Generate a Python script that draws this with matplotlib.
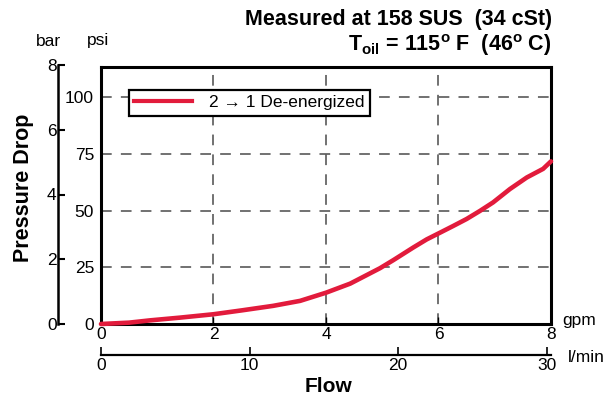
import matplotlib
matplotlib.use("Agg")
import matplotlib.pyplot as plt
from matplotlib.lines import Line2D

plt.rcParams["font.family"] = ["Liberation Sans", "DejaVu Sans"]
plt.rcParams["mathtext.fontset"] = "custom"
plt.rcParams["mathtext.rm"] = "Liberation Sans"
plt.rcParams["mathtext.bf"] = "Liberation Sans:bold"

# data (flow in gpm, pressure drop in psi)
flow_gpm = [0.0, 0.5, 0.87, 1.4, 2.0, 2.5, 3.06, 3.54, 4.0, 4.43, 4.96, 5.2, 5.55, 5.79,
            6.03, 6.26, 6.5, 6.74, 6.97, 7.27, 7.57, 7.86, 8.0]
drop_psi = [0.0, 0.6, 1.6, 2.8, 4.3, 6.0, 8.0, 10.2, 13.8, 17.8, 24.6, 28.2, 33.7, 37.3,
            40.3, 43.2, 46.3, 49.9, 53.6, 59.5, 64.6, 68.4, 71.7]

gpm_ticks = [0, 2, 4, 6, 8]
lmin_ticks = [0, 10, 20, 30]
psi_ticks = [0, 25, 50, 75, 100]
bar_ticks = [0, 2, 4, 6, 8]
series_label = "2 \u2192 1 De-energized"

W, H = 610, 397
fig = plt.figure(figsize=(W / 100, H / 100), dpi=100)


def fx(px):
    return px / W


def fy(py):
    return 1 - py / H


red = "#e21b3c"
fs = 12.5

ax = fig.add_axes([fx(101), fy(324), fx(551) - fx(101), fy(67) - fy(324)])
ax.plot(flow_gpm, drop_psi, color=red, lw=3.3, solid_capstyle="round",
        solid_joinstyle="round", clip_on=False, zorder=3)
ax.set_xlim(0, 8)
ax.set_ylim(0, 113.3)
ax.set_xticks(gpm_ticks)
ax.set_yticks(psi_ticks)
ax.tick_params(axis="x", direction="in", length=5, width=1, labelsize=fs, pad=2)
ax.tick_params(axis="y", length=0, labelsize=fs, pad=5)
for s in ax.spines.values():
    s.set_linewidth(2.2)
for v in [2, 4, 6]:
    ax.axvline(v, color="#4a4a4a", lw=1.1, dashes=(7, 6), zorder=1)
for v in [25, 50, 75, 100]:
    ax.axhline(v, color="#4a4a4a", lw=1.1, dashes=(7, 6), zorder=1)

h = Line2D([], [], color=red, lw=3)
leg = ax.legend([h], [series_label], loc="upper left",
                bbox_to_anchor=((129 - 101) / 450, (324 - 90) / 257),
                frameon=True, fontsize=fs, handlelength=3.3, handletextpad=1.0,
                borderpad=0.3, borderaxespad=0, fancybox=False, framealpha=1)
leg.get_frame().set_edgecolor("black")
leg.get_frame().set_linewidth(1.6)

# bar axis on the far left
axb = fig.add_axes([fx(58), fy(324), 0.001, fy(65) - fy(324)])
axb.set_ylim(0, 8)
axb.set_yticks(bar_ticks)
axb.set_xticks([])
for k in ["top", "right", "bottom"]:
    axb.spines[k].set_visible(False)
axb.spines["left"].set_linewidth(1.8)
axb.tick_params(axis="y", direction="in", length=5, width=1.5, labelsize=fs, pad=1)
axb.patch.set_visible(False)

# l/min axis below
axl = fig.add_axes([fx(101), fy(355), fx(551) - fx(101), 0.001])
axl.set_xlim(0, 8 * 3.785)
axl.set_xticks(lmin_ticks)
axl.set_yticks([])
for k in ["top", "right", "left"]:
    axl.spines[k].set_visible(False)
axl.spines["bottom"].set_linewidth(1.6)
axl.tick_params(axis="x", direction="in", length=6, width=1.2, labelsize=fs, pad=2)
axl.patch.set_visible(False)

fig.text(fx(48), fy(42), "bar", ha="center", va="center", fontsize=fs)
fig.text(fx(98), fy(41), "psi", ha="center", va="center", fontsize=fs)
fig.text(fx(23), fy(188), "Pressure Drop", rotation=90, ha="center", va="center",
         fontsize=15.5, fontweight="bold")
fig.text(fx(328), fy(387), "Flow", ha="center", va="center", fontsize=15, fontweight="bold")
fig.text(fx(562), fy(320), "gpm", ha="left", va="center", fontsize=fs)
fig.text(fx(568), fy(357), "l/min", ha="left", va="center", fontsize=fs)

fig.text(fx(552), fy(19), "Measured at 158 SUS  (34 cSt)", ha="right", va="center",
         fontsize=15.5, fontweight="bold")
fig.text(fx(552), fy(45), r"T$_{\mathbf{oil}}$ = 115$^{\mathbf{o}}$ F  (46$^{\mathbf{o}}$ C)",
         ha="right", va="center", fontsize=15.5, fontweight="bold")

fig.savefig("out.png", dpi=100)
